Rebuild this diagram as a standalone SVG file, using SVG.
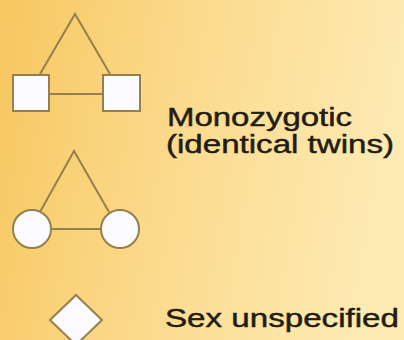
<svg xmlns="http://www.w3.org/2000/svg" width="404" height="340" viewBox="0 0 404 340">
<defs>
<linearGradient id="bg" x1="0" y1="0" x2="1" y2="0.15">
<stop offset="0" stop-color="#F7C760"/>
<stop offset="0.45" stop-color="#FBD98A"/>
<stop offset="1" stop-color="#FDEAB2"/>
</linearGradient>
<style>
.ln{stroke:#94804A;stroke-width:2;fill:none}
.sh{stroke:#94804A;stroke-width:2;fill:#FBFBFF}
.tx{font-family:"Liberation Sans",Arial,sans-serif;font-size:25px;fill:#231C10;stroke:#231C10;stroke-width:0.45}
</style>
</defs>
<rect width="404" height="340" fill="url(#bg)"/>
<g id="connectors">
<polyline class="ln" points="40,74 75,14 110,74"/>
<line class="ln" x1="49" y1="94" x2="103" y2="94"/>
<polyline class="ln" points="40,212 74,151 109,212"/>
<line class="ln" x1="51" y1="229" x2="101" y2="229"/>
</g>
<g id="male-twin-1"><rect class="sh" x="13" y="75" width="36" height="36"/></g>
<g id="male-twin-2"><rect class="sh" x="103" y="75" width="37" height="36"/></g>
<g id="female-twin-1"><circle class="sh" cx="32" cy="229" r="19"/></g>
<g id="female-twin-2"><circle class="sh" cx="120" cy="229" r="19"/></g>
<g id="sex-unspecified"><polygon class="sh" points="76,295 102,320 76,345 50,320"/></g>
<g id="labels">
<text class="tx"><tspan x="167" y="126" textLength="185" lengthAdjust="spacingAndGlyphs">Monozygotic</tspan><tspan x="166" y="153" textLength="228" lengthAdjust="spacingAndGlyphs">(identical twins)</tspan></text>
<text class="tx" x="165" y="327" textLength="234" lengthAdjust="spacingAndGlyphs">Sex unspecified</text>
</g>
</svg>
